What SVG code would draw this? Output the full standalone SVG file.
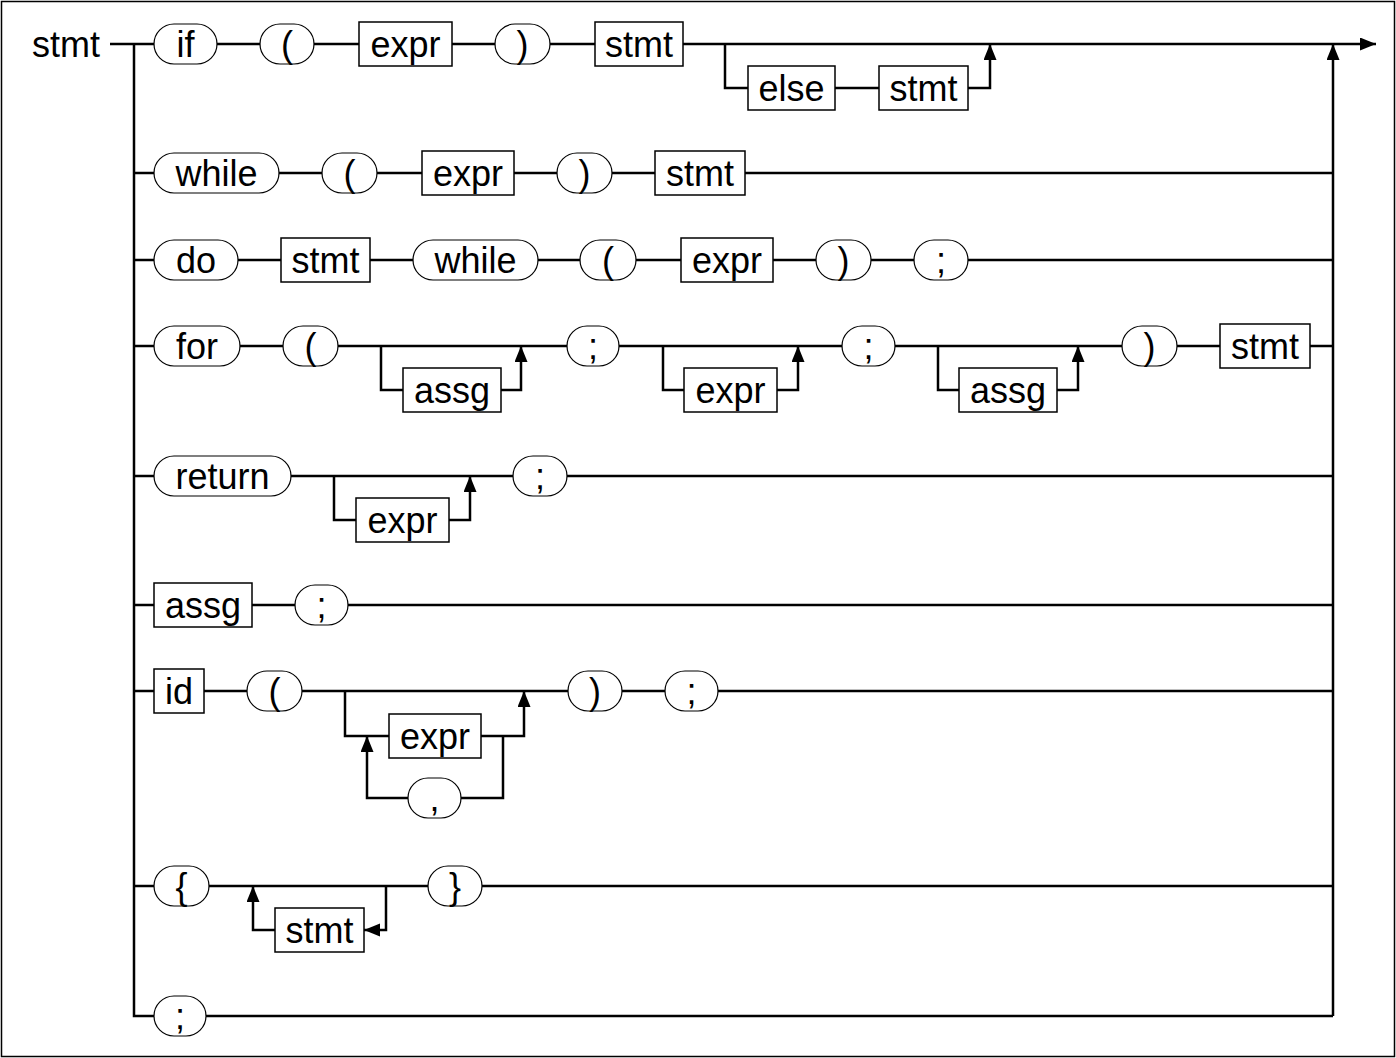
<svg xmlns="http://www.w3.org/2000/svg" width="1396" height="1058" viewBox="0 0 1396 1058">
<style>
.c{fill:none;stroke:#000;stroke-width:2.5}
.t{fill:#fff;stroke:#000;stroke-width:1.2}
.n{fill:#fff;stroke:#000;stroke-width:1.5}
text{font-family:"Liberation Sans",Arial,sans-serif;font-size:36px;fill:#000;text-anchor:middle}
</style>
<defs>
<marker id="ah" markerUnits="userSpaceOnUse" markerWidth="18" markerHeight="14" refX="16" refY="6.5" orient="auto">
<path d="M0,0 L16,6.5 L0,13 z" fill="#000"/>
</marker>
</defs>
<rect x="1.5" y="1.5" width="1393" height="1055" fill="#fff" stroke="#000" stroke-width="1.5"/>
<text x="66" y="57">stmt</text>
<g id="connectors">
<path class="c" d="M110,44 H1376" marker-end="url(#ah)"/>
<path class="c" d="M134,44 V1016 H1333"/>
<path class="c" d="M1333,1016 V44" marker-end="url(#ah)"/>
<path class="c" d="M134,173 H1333"/>
<path class="c" d="M134,260 H1333"/>
<path class="c" d="M134,346 H1333"/>
<path class="c" d="M134,476 H1333"/>
<path class="c" d="M134,605 H1333"/>
<path class="c" d="M134,691 H1333"/>
<path class="c" d="M134,886 H1333"/>
<path class="c" d="M725,44 V88 H990 V44" marker-end="url(#ah)"/>
<path class="c" d="M381,346 V390 H521 V346" marker-end="url(#ah)"/>
<path class="c" d="M663,346 V390 H798 V346" marker-end="url(#ah)"/>
<path class="c" d="M938,346 V390 H1078 V346" marker-end="url(#ah)"/>
<path class="c" d="M334,476 V520 H470 V476" marker-end="url(#ah)"/>
<path class="c" d="M345,691 V736 H524 V691" marker-end="url(#ah)"/>
<path class="c" d="M503,736 V798 H367 V736" marker-end="url(#ah)"/>
<path class="c" d="M386,886 V930 H364" marker-end="url(#ah)"/>
<path class="c" d="M275,930 H253 V886" marker-end="url(#ah)"/>
</g>
<!-- row 1 -->
<g id="r1-if"><rect class="t" x="154" y="24" width="63" height="40" rx="20"/><text x="185.5" y="57">if</text></g>
<g id="r1-lp"><rect class="t" x="260" y="24" width="54" height="40" rx="20"/><text x="287" y="57">(</text></g>
<g id="r1-expr"><rect class="n" x="359" y="22" width="93" height="44"/><text x="405.5" y="57">expr</text></g>
<g id="r1-rp"><rect class="t" x="495" y="24" width="55" height="40" rx="20"/><text x="522.5" y="57">)</text></g>
<g id="r1-stmt"><rect class="n" x="595" y="22" width="88" height="44"/><text x="639" y="57">stmt</text></g>
<g id="r1-else"><rect class="n" x="748" y="66" width="87" height="44"/><text x="791.5" y="101">else</text></g>
<g id="r1-stmt2"><rect class="n" x="879" y="66" width="89" height="44"/><text x="923.5" y="101">stmt</text></g>
<!-- row 2 -->
<g id="r2-while"><rect class="t" x="154" y="153" width="125" height="40" rx="20"/><text x="216.5" y="186">while</text></g>
<g id="r2-lp"><rect class="t" x="322" y="153" width="55" height="40" rx="20"/><text x="349.5" y="186">(</text></g>
<g id="r2-expr"><rect class="n" x="422" y="151" width="92" height="44"/><text x="468" y="186">expr</text></g>
<g id="r2-rp"><rect class="t" x="557" y="153" width="55" height="40" rx="20"/><text x="584.5" y="186">)</text></g>
<g id="r2-stmt"><rect class="n" x="655" y="151" width="90" height="44"/><text x="700" y="186">stmt</text></g>
<!-- row 3 -->
<g id="r3-do"><rect class="t" x="154" y="240" width="84" height="40" rx="20"/><text x="196" y="273">do</text></g>
<g id="r3-stmt"><rect class="n" x="281" y="238" width="89" height="44"/><text x="325.5" y="273">stmt</text></g>
<g id="r3-while"><rect class="t" x="413" y="240" width="125" height="40" rx="20"/><text x="475.5" y="273">while</text></g>
<g id="r3-lp"><rect class="t" x="580" y="240" width="56" height="40" rx="20"/><text x="608" y="273">(</text></g>
<g id="r3-expr"><rect class="n" x="681" y="238" width="92" height="44"/><text x="727" y="273">expr</text></g>
<g id="r3-rp"><rect class="t" x="816" y="240" width="55" height="40" rx="20"/><text x="843.5" y="273">)</text></g>
<g id="r3-semi"><rect class="t" x="914" y="240" width="54" height="40" rx="20"/><text x="941" y="273">;</text></g>
<!-- row 4 -->
<g id="r4-for"><rect class="t" x="154" y="326" width="86" height="40" rx="20"/><text x="197" y="359">for</text></g>
<g id="r4-lp"><rect class="t" x="283" y="326" width="55" height="40" rx="20"/><text x="310.5" y="359">(</text></g>
<g id="r4-assg1"><rect class="n" x="403" y="368" width="98" height="44"/><text x="452" y="403">assg</text></g>
<g id="r4-semi1"><rect class="t" x="567" y="326" width="52" height="40" rx="20"/><text x="593" y="359">;</text></g>
<g id="r4-expr"><rect class="n" x="684" y="368" width="93" height="44"/><text x="730.5" y="403">expr</text></g>
<g id="r4-semi2"><rect class="t" x="842" y="326" width="53" height="40" rx="20"/><text x="868.5" y="359">;</text></g>
<g id="r4-assg2"><rect class="n" x="959" y="368" width="98" height="44"/><text x="1008" y="403">assg</text></g>
<g id="r4-rp"><rect class="t" x="1122" y="326" width="55" height="40" rx="20"/><text x="1149.5" y="359">)</text></g>
<g id="r4-stmt"><rect class="n" x="1220" y="324" width="90" height="44"/><text x="1265" y="359">stmt</text></g>
<!-- row 5 -->
<g id="r5-return"><rect class="t" x="154" y="456" width="137" height="40" rx="20"/><text x="222.5" y="489">return</text></g>
<g id="r5-expr"><rect class="n" x="356" y="498" width="93" height="44"/><text x="402.5" y="533">expr</text></g>
<g id="r5-semi"><rect class="t" x="513" y="456" width="54" height="40" rx="20"/><text x="540" y="489">;</text></g>
<!-- row 6 -->
<g id="r6-assg"><rect class="n" x="154" y="583" width="98" height="44"/><text x="203" y="618">assg</text></g>
<g id="r6-semi"><rect class="t" x="295" y="585" width="53" height="40" rx="20"/><text x="321.5" y="618">;</text></g>
<!-- row 7 -->
<g id="r7-id"><rect class="n" x="154" y="669" width="50" height="44"/><text x="179" y="704">id</text></g>
<g id="r7-lp"><rect class="t" x="247" y="671" width="55" height="40" rx="20"/><text x="274.5" y="704">(</text></g>
<g id="r7-expr"><rect class="n" x="389" y="714" width="92" height="44"/><text x="435" y="749">expr</text></g>
<g id="r7-comma"><rect class="t" x="408" y="778" width="53" height="40" rx="20"/><text x="434.5" y="811">,</text></g>
<g id="r7-rp"><rect class="t" x="568" y="671" width="54" height="40" rx="20"/><text x="595" y="704">)</text></g>
<g id="r7-semi"><rect class="t" x="665" y="671" width="53" height="40" rx="20"/><text x="691.5" y="704">;</text></g>
<!-- row 8 -->
<g id="r8-lb"><rect class="t" x="154" y="866" width="55" height="40" rx="20"/><text x="181.5" y="899">{</text></g>
<g id="r8-stmt"><rect class="n" x="275" y="908" width="89" height="44"/><text x="319.5" y="943">stmt</text></g>
<g id="r8-rb"><rect class="t" x="428" y="866" width="54" height="40" rx="20"/><text x="455" y="899">}</text></g>
<!-- row 9 -->
<g id="r9-semi"><rect class="t" x="154" y="996" width="52" height="40" rx="20"/><text x="180" y="1029">;</text></g>
</svg>
